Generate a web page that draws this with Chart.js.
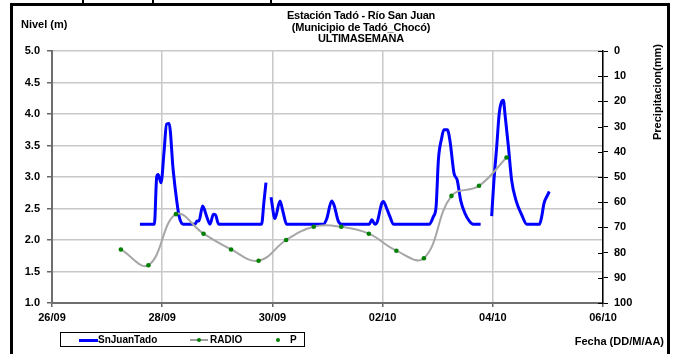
<!DOCTYPE html>
<html>
<head>
<meta charset="utf-8">
<script src="https://cdn.jsdelivr.net/npm/chart.js@4/dist/chart.umd.min.js"></script>
<style>
  html, body { margin: 0; padding: 0; background: #fff; overflow: hidden; }
  body { width: 674px; height: 354px; position: relative; font-family: "Liberation Sans", Arial, sans-serif; font-weight: bold; color: #000; }
  #wrap { position: absolute; left: 0; top: 0; width: 674px; height: 354px; }
  .frame { position: absolute; left: 10px; top: 3px; width: 660px; height: 400px; box-sizing: border-box; border: 3px solid #000; }
  .stub { position: absolute; top: 0; width: 2px; height: 4px; background: #000; }
  .txt { position: absolute; font-size: 11px; white-space: nowrap; }
  #title { left: 261px; width: 200px; top: 10px; text-align: center; line-height: 11.5px; letter-spacing: -0.2px; }
  #title .u { text-decoration: none; border-bottom: 1px solid #000; display: inline-block; width: 6px; height: 9px; vertical-align: baseline; }
  #yTitle { left: 21px; top: 18px; }
  #y2Title { top: 92px; transform: translate(-50%, -50%) rotate(-90deg); transform-origin: center; left: 657px; }
  #xTitle { right: 10px; top: 335px; }
  #legend { position: absolute; left: 60px; top: 332px; width: 245px; height: 15px; box-sizing: border-box; border: 1px solid #000; font-size: 10px; }
  #legend span { position: absolute; top: 1px; }
  .lg-line { position: absolute; height: 2px; top: 6px; }
  .lg-dot { position: absolute; width: 4px; height: 4px; border-radius: 2px; background: #008000; top: 5px; }
</style>
</head>
<body>
<div class="stub" style="left:82px"></div>
<div class="stub" style="left:152px"></div>
<div class="stub" style="left:270px"></div>
<div class="frame"></div>
<div id="wrap"><canvas id="chart" width="674" height="354"></canvas></div>
<div class="txt" id="title">Estación Tadó - Río San Juan<br>(Municipio de Tadó_Chocó)<br>ULTIMASEMANA</div>
<div class="txt" id="yTitle">Nivel (m)</div>
<div class="txt" id="y2Title">Precipitacion(mm)</div>
<div class="txt" id="xTitle">Fecha (DD/M/AA)</div>
<div id="legend">
  <div class="lg-line" style="left:18px;width:19px;background:#0000ff;height:3px;top:6px"></div>
  <span style="left:37px">SnJuanTado</span>
  <div class="lg-line" style="left:129px;width:18px;background:#a0a0a0"></div>
  <div class="lg-dot" style="left:136px"></div>
  <span style="left:149px">RADIO</span>
  <div class="lg-dot" style="left:215px"></div>
  <span style="left:229px">P</span>
</div>
<script>
// hours counted from 26/09 00:00
const levelHours = [38.3, 44.6, 45.6, 46.2, 47.5, 48.8, 49.9, 51.0, 52.8, 54.3, 55.4, 57.2,
  62.3, 63.2, 64.0, 65.6, 67.4, 68.8, 70.3, 71.2, 72.6, 91.3, 92.3, 93.2, 94.3,
  95.4, 97.1, 99.3, 100.6, 102.2, 118.2, 119.7, 121.8, 122.8, 124.7, 126.2,
  138.2, 139.3, 140.7, 141.7, 143.6, 144.3, 145.8, 147.2, 148.7,
  164.3, 166.1, 167.3, 168.3, 169.7, 170.7, 172.2, 173.4, 175.1, 176.5, 178.0, 179.9, 181.8, 183.5, 186.7, 189.0,
  191.5, 192.5, 193.7, 194.8, 195.9, 196.6, 197.3, 198.8, 200.2, 202.1, 204.6, 206.8,
  212.3, 213.3, 214.3, 215.8, 216.6];
const levelValues = [2.25, 2.25, 3.00, 3.04, 2.91, 3.40, 3.84, 3.85, 3.10, 2.63, 2.37, 2.25,
  2.25, 2.30, 2.30, 2.54, 2.37, 2.25, 2.41, 2.40, 2.25, 2.25, 2.60, 2.91, null,
  2.68, 2.34, 2.62, 2.45, 2.25, 2.25, 2.34, 2.62, 2.56, 2.30, 2.25,
  2.25, 2.32, 2.25, 2.29, 2.58, 2.61, 2.50, 2.37, 2.25,
  2.25, 2.37, 2.53, 3.27, 3.61, 3.75, 3.75, 3.56, 3.06, 2.95, 2.63, 2.42, 2.30, 2.25, 2.25, null,
  2.38, 2.95, 3.48, 4.01, 4.20, 4.22, 4.00, 3.48, 2.95, 2.63, 2.40, 2.25,
  2.25, 2.37, 2.58, 2.71, 2.77];

const radioHours = [30, 42, 54, 66, 78, 90, 102, 114, 126, 138, 150, 162, 174, 186, 198];
const radioValues = [1.85, 1.60, 2.41, 2.10, 1.85, 1.67, 2.00, 2.21, 2.21, 2.10, 1.83, 1.71, 2.70, 2.86, 3.31];

const pHours = [];
const pValues = [];

const dateLabels = ['26/09', '28/09', '30/09', '02/10', '04/10', '06/10'];

const tickFont = { family: "'Liberation Sans', Arial, sans-serif", size: 11, weight: 'bold' };

function toPoints(xs, ys) {
  return xs.map((x, i) => ({ x: x, y: ys[i] }));
}

// Excel-style tick marks crossing the secondary axis
const crossTicks = {
  id: 'crossTicks',
  afterDraw(chart) {
    const s = chart.scales.y1;
    const ctx = chart.ctx;
    ctx.save();
    ctx.strokeStyle = '#000';
    ctx.lineWidth = 1;
    s.ticks.forEach(t => {
      const y = Math.round(s.getPixelForValue(t.value)) + 0.5;
      ctx.beginPath();
      ctx.moveTo(s.left - 5, y);
      ctx.lineTo(s.left, y);
      ctx.stroke();
    });
    ctx.restore();
  }
};

new Chart(document.getElementById('chart'), {
  type: 'line',
  data: {
    datasets: [{
      label: 'SnJuanTado',
      data: toPoints(levelHours, levelValues),
      borderColor: '#0000ff',
      borderWidth: 3,
      pointRadius: 0,
      cubicInterpolationMode: 'monotone',
      spanGaps: false,
      yAxisID: 'y',
      order: 2
    }, {
      label: 'RADIO',
      data: toPoints(radioHours, radioValues),
      borderColor: '#a6a6a6',
      borderWidth: 2,
      tension: 0.4,
      pointRadius: 2.3,
      pointBackgroundColor: '#008000',
      pointBorderColor: '#008000',
      pointBorderWidth: 0,
      yAxisID: 'y',
      order: 1
    }, {
      label: 'P',
      data: toPoints(pHours, pValues),
      showLine: false,
      pointRadius: 2,
      pointBackgroundColor: '#008000',
      pointBorderColor: '#008000',
      yAxisID: 'y1',
      order: 0
    }]
  },
  options: {
    responsive: false,
    animation: false,
    layout: { padding: { top: 51, left: 0, right: 0, bottom: 0 } },
    plugins: {
      legend: { display: false },
      title: { display: false },
      tooltip: { enabled: false }
    },
    scales: {
      x: {
        type: 'linear',
        min: 0,
        max: 240,
        afterFit: s => { s.height = 51; },
        afterBuildTicks: s => { s.ticks = dateLabels.map((d, i) => ({ value: i * 48 })); },
        ticks: {
          font: tickFont,
          color: '#000',
          padding: 4,
          maxRotation: 0,
          callback: (v, i) => dateLabels[i]
        },
        grid: { color: '#c8c8c8', lineWidth: 1.5, tickColor: '#666', tickLength: 4 },
        border: { color: '#6e6e6e', width: 2 }
      },
      y: {
        position: 'left',
        min: 1,
        max: 5,
        afterFit: s => { s.width = 52; },
        ticks: {
          stepSize: 0.5,
          font: tickFont,
          color: '#000',
          padding: 7,
          callback: v => v.toFixed(1)
        },
        grid: { color: '#c8c8c8', lineWidth: 1.5, tickColor: '#666', tickLength: 5 },
        border: { color: '#6e6e6e', width: 2 }
      },
      y1: {
        position: 'right',
        min: 0,
        max: 100,
        reverse: true,
        afterFit: s => { s.width = 71; },
        ticks: {
          stepSize: 10,
          font: tickFont,
          color: '#000',
          padding: 6
        },
        grid: { drawOnChartArea: false, tickColor: '#000', tickLength: 5 },
        border: { color: '#000', width: 1.5 }
      }
    }
  },
  plugins: [crossTicks]
});
</script>
</body>
</html>
